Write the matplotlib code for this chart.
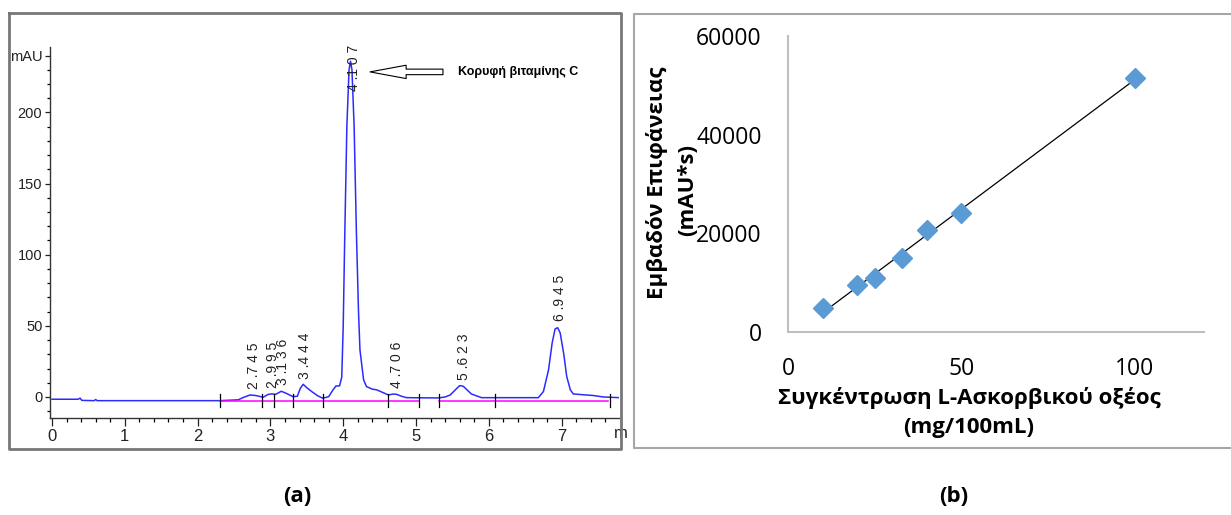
import numpy as np
import matplotlib
matplotlib.use("Agg")
import matplotlib.pyplot as plt
from matplotlib.lines import Line2D
from matplotlib.transforms import blended_transform_factory

# ---------------- data ----------------
# (a) chromatogram, digitised signal (time in min, absorbance in mAU)
chrom_time = [0.00, 0.36, 0.385, 0.41, 0.58, 0.60, 0.62, 2.30, 2.56, 2.62, 2.72, 2.80,
              2.90, 2.97, 3.02, 3.07, 3.15, 3.22, 3.31, 3.37, 3.41, 3.45, 3.50, 3.57,
              3.65, 3.72, 3.80, 3.86, 3.90, 3.95, 3.98, 4.00, 4.02, 4.05, 4.08, 4.10,
              4.12, 4.15, 4.18, 4.21, 4.23, 4.28, 4.32, 4.40, 4.46, 4.55, 4.62, 4.68,
              4.73, 4.80, 4.87, 5.31, 5.40, 5.47, 5.55, 5.60, 5.65, 5.70, 5.76, 5.90,
              6.68, 6.75, 6.82, 6.87, 6.91, 6.945, 6.98, 7.03, 7.07, 7.12, 7.16, 7.44,
              7.57, 7.80]
chrom_mau = [-1.6, -1.6, -0.8, -2.4, -2.6, -1.8, -2.6, -2.6, -2.0, -0.5, 1.4, 1.0,
             -0.2, 1.8, 2.2, 1.8, 4.0, 2.5, 0.2, 0.5, 6.0, 8.9, 6.5, 3.7,
             0.8, -0.9, 0.2, 5.0, 7.7, 7.8, 14.0, 50.0, 110.0, 190.0, 230.0, 236.0,
             230.0, 190.0, 118.0, 60.0, 33.0, 12.0, 7.3, 5.5, 5.0, 3.0, 1.4, 2.0,
             1.9, 0.5, -0.5, -0.7, 0.0, 1.4, 5.5, 8.0, 7.5, 5.0, 2.1, -0.5,
             -0.5, 3.8, 19.0, 38.0, 47.8, 48.7, 45.0, 30.0, 14.3, 5.0, 2.1, 1.0,
             0.0, -0.5]
peak_times = [2.745, 2.995, 3.136, 3.444, 4.107, 4.706, 5.623, 6.945]
peak_labels = ["2 .7 4 5", "2 .9 9 5", "3 .1 3 6", "3 .4 4 4",
               "4 .1 0 7", "4 .7 0 6", "5 .6 2 3", "6 .9 4 5"]
baseline_segments = [(2.31, 5.04), (5.32, 7.64)]
baseline_level = -2.6
integration_marks = [2.31, 2.89, 3.045, 3.31, 3.72, 4.615, 5.04, 5.32, 6.085, 7.665]
annotation_text = "Κορυφή βιταμίνης C"

# (b) calibration curve
conc = [10, 20, 25, 33, 40, 50, 100]              # mg/100mL
area = [4800, 9500, 10900, 15000, 20700, 24100, 51500]  # mAU*s

# ---------------- figure ----------------
W, H = 1231, 515
fig = plt.figure(figsize=(W / 100, H / 100), dpi=100)
fig.patch.set_facecolor("white")


def fx(px):
    return px / W


def fy(py):
    return 1 - py / H


narrow = ["Liberation Sans Narrow", "Liberation Sans", "DejaVu Sans"]
greek = ["Open Sans", "DejaVu Sans"]

# frames around the panels
fig.add_artist(Line2D([fx(9), fx(621), fx(621), fx(9), fx(9)],
                      [fy(13), fy(13), fy(449), fy(449), fy(13)],
                      transform=fig.transFigure, color="#777777", lw=2))
fig.add_artist(Line2D([fx(1231), fx(634), fx(634), fx(1231)],
                      [fy(14), fy(14), fy(448), fy(448)],
                      transform=fig.transFigure, color="#a6a6a6", lw=1.5))

# ---------------- (a) chromatogram ----------------
axA = fig.add_axes([fx(50), fy(418.3), fx(619) - fx(50), fy(47) - fy(418.3)])
axA.set_xlim(-0.0275, 7.788)
axA.set_ylim(-15, 246)
for s in ["top", "right"]:
    axA.spines[s].set_visible(False)
for s in ["left", "bottom"]:
    axA.spines[s].set_color("#333333")
    axA.spines[s].set_linewidth(1)

axA.plot(chrom_time, chrom_mau, color="#2b2bff", lw=1.1, zorder=3)
for a, b in baseline_segments:
    axA.plot([a, b], [baseline_level, baseline_level], color="#ff00ff", lw=1.1, zorder=4)
for t in integration_marks:
    axA.plot([t, t], [baseline_level - 4.5, baseline_level + 5], color="black", lw=0.9, zorder=5)

yt = [0, 50, 100, 150, 200, 240]
axA.set_yticks(yt)
axA.set_yticklabels(["0", "50", "100", "150", "200", "mAU"], family=narrow, fontsize=10.5)
axA.set_yticks(np.arange(-10, 241, 10), minor=True)
axA.set_xticks(range(0, 8))
axA.set_xticklabels([str(i) for i in range(0, 8)], family=narrow, fontsize=12)
axA.set_xticks(np.arange(0, 7.8, 0.2), minor=True)
axA.tick_params(axis="y", which="major", length=3.5, width=0.9, pad=2, colors="#222222")
axA.tick_params(axis="y", which="minor", length=2, width=0.9)
axA.tick_params(axis="x", which="major", length=6, width=0.9, pad=1.5, colors="#222222")
axA.tick_params(axis="x", which="minor", length=3, width=0.9)
trA = blended_transform_factory(axA.transData, axA.transAxes)
axA.text(7.72, -0.022, "m", transform=trA, ha="left", va="top",
         family=narrow, fontsize=12, color="#222222", clip_on=False)

for t, lab in zip(peak_times, peak_labels):
    h = float(np.interp(t, chrom_time, chrom_mau))
    ylab = min(h + 4.5, 215)
    axA.text(t + 0.035, ylab, lab, rotation=90, ha="center", va="bottom",
             family=narrow, fontsize=10, color="#222222", zorder=6)

tip = (4.368, 228.5)
tail = (5.37, 228.5)
axA.annotate("", xy=tip, xytext=tail,
             arrowprops=dict(arrowstyle="simple,head_length=26,head_width=9.6,tail_width=4",
                             mutation_scale=1, fc="white", ec="black", lw=0.8,
                             shrinkA=0, shrinkB=0))
axA.text(5.577, 228.5, annotation_text, ha="left", va="center",
         family=narrow, fontsize=9, fontweight="bold")

# ---------------- (b) calibration ----------------
axB = fig.add_axes([fx(788), fy(332), fx(1204) - fx(788), fy(36) - fy(332)])
axB.set_xlim(0, 120)
axB.set_ylim(0, 60000)
for s in ["top", "right"]:
    axB.spines[s].set_visible(False)
for s in ["left", "bottom"]:
    axB.spines[s].set_color("#bfbfbf")
    axB.spines[s].set_linewidth(1.5)
axB.set_xticks([0, 50, 100])
axB.set_yticks([0, 20000, 40000, 60000])
axB.tick_params(axis="y", length=0, labelsize=16.5, pad=19)
axB.tick_params(axis="x", length=0, labelsize=16.5, pad=18)
for lab in axB.get_xticklabels() + axB.get_yticklabels():
    lab.set_family(greek)

slope, intercept = np.polyfit(conc, area, 1)
xfit = np.array([min(conc), max(conc)])
axB.plot(xfit, slope * xfit + intercept, color="black", lw=0.9, zorder=2)
axB.plot(conc, area, linestyle="none", marker="D", markersize=10.5,
         color="#5b9bd5", zorder=3, clip_on=False)

fig.text(fx(969), fy(398), "Συγκέντρωση L-Ασκορβικού οξέος", ha="center", va="center",
         family=greek, fontsize=16, fontweight="bold")
fig.text(fx(969), fy(428), "(mg/100mL)", ha="center", va="center",
         family=greek, fontsize=16, fontweight="bold")
fig.text(fx(657), fy(183), "Εμβαδόν Επιφάνειας", ha="center", va="center", rotation=90,
         family=greek, fontsize=16, fontweight="bold")
fig.text(fx(688), fy(190), "(mAU*s)", ha="center", va="center", rotation=90,
         family=greek, fontsize=16, fontweight="bold")

# panel letters
fig.text(fx(297), fy(497), "(a)", ha="center", va="center", family=greek,
         fontsize=16, fontweight="bold")
fig.text(fx(954), fy(497), "(b)", ha="center", va="center", family=greek,
         fontsize=16, fontweight="bold")

fig.savefig("out.png", dpi=100, facecolor="white")
